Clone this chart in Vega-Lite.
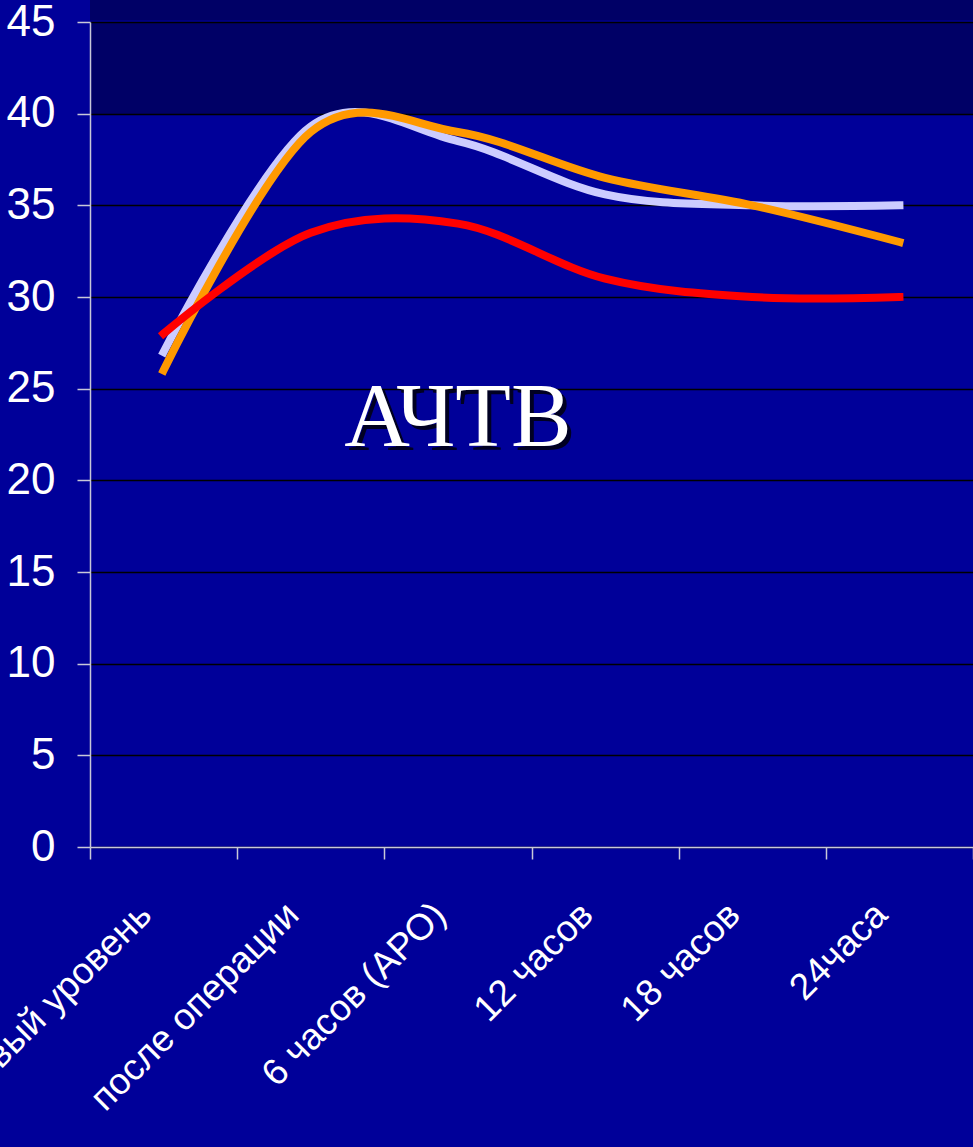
{
  "$schema": "https://vega.github.io/schema/vega-lite/v6.json",
  "width": 883,
  "height": 825,
  "autosize": {"type": "none"},
  "padding": {"left": 90, "top": 22, "right": 0, "bottom": 300},
  "background": "#000099",
  "config": {
    "view": {
      "stroke": null,
      "fill": {
        "gradient": "linear",
        "x1": 0, "y1": 0, "x2": 0, "y2": 1,
        "stops": [
          {"offset": 0, "color": "#000066"},
          {"offset": 0.1115, "color": "#000066"},
          {"offset": 0.1115, "color": "#000099"},
          {"offset": 1, "color": "#000099"}
        ]
      }
    }
  },
  "datasets": {
    "series": [
      {"t": "Базовый уровень", "s": "s1", "v": 27},
      {"t": "после операции", "s": "s1", "v": 39.3},
      {"t": "6 часов (АРО)", "s": "s1", "v": 38.5},
      {"t": "12 часов", "s": "s1", "v": 35.6},
      {"t": "18 часов", "s": "s1", "v": 35},
      {"t": "24часа", "s": "s1", "v": 35},
      {"t": "Базовый уровень", "s": "s2", "v": 26},
      {"t": "после операции", "s": "s2", "v": 39},
      {"t": "6 часов (АРО)", "s": "s2", "v": 39},
      {"t": "12 часов", "s": "s2", "v": 36.5},
      {"t": "18 часов", "s": "s2", "v": 35},
      {"t": "24часа", "s": "s2", "v": 33},
      {"t": "Базовый уровень", "s": "s3", "v": 28},
      {"t": "после операции", "s": "s3", "v": 33.5},
      {"t": "6 часов (АРО)", "s": "s3", "v": 34},
      {"t": "12 часов", "s": "s3", "v": 31},
      {"t": "18 часов", "s": "s3", "v": 30},
      {"t": "24часа", "s": "s3", "v": 30}
    ],
    "topband": [{"lo": 45.08, "hi": 46.5}],
    "caption": [{"text": "АЧТВ", "t": "6 часов (АРО)", "v": 21.9}]
  },
  "layer": [
    {
      "data": {"name": "topband"},
      "mark": {"type": "rect", "color": "#000066"},
      "encoding": {
        "y": {"field": "lo", "type": "quantitative", "title": null},
        "y2": {"field": "hi"}
      }
    },
    {
      "data": {"name": "series"},
      "transform": [{"filter": "datum.s === 's1'"}],
      "mark": {"type": "line", "color": "#CCCCFF", "strokeWidth": 8, "interpolate": "cardinal", "strokeCap": "square"},
      "encoding": {
        "x": {
          "field": "t", "type": "nominal", "title": null,
          "scale": {"type": "band", "paddingInner": 0, "paddingOuter": 0,
            "domain": ["Базовый уровень", "после операции", "6 часов (АРО)", "12 часов", "18 часов", "24часа"]},
          "axis": {
            "tickBand": "extent", "grid": false,
            "labelAngle": -45, "labelAlign": "right", "labelBaseline": "top",
            "labelFont": "Liberation Sans", "labelFontSize": 37, "labelColor": "#FFFFFF",
            "labelPadding": 37, "labelOffset": -31, "labelLimit": 600, "labelOverlap": false,
            "domainColor": "#C8C8D8", "domainWidth": 1.5,
            "tickColor": "#C8C8D8", "tickWidth": 1.5, "tickSize": 12
          }
        },
        "y": {
          "field": "v", "type": "quantitative", "title": null,
          "scale": {"domain": [0, 45], "nice": false, "zero": true},
          "axis": {
            "values": [0, 5, 10, 15, 20, 25, 30, 35, 40, 45],
            "grid": true, "gridColor": "#000000", "gridWidth": 1.6, "gridOpacity": 1,
            "domainColor": "#C8C8D8", "domainWidth": 1.5,
            "tickColor": "#C8C8D8", "tickWidth": 1.5, "tickSize": 13,
            "labelFont": "Liberation Sans", "labelFontSize": 44, "labelColor": "#FFFFFF",
            "labelPadding": 22
          }
        }
      }
    },
    {
      "data": {"name": "series"},
      "transform": [{"filter": "datum.s === 's2'"}],
      "mark": {"type": "line", "color": "#FF9900", "strokeWidth": 8, "interpolate": "cardinal", "strokeCap": "square"},
      "encoding": {
        "x": {"field": "t", "type": "nominal", "title": null},
        "y": {"field": "v", "type": "quantitative", "title": null}
      }
    },
    {
      "data": {"name": "series"},
      "transform": [{"filter": "datum.s === 's3'"}],
      "mark": {"type": "line", "color": "#FF0000", "strokeWidth": 8, "interpolate": "cardinal", "strokeCap": "square"},
      "encoding": {
        "x": {"field": "t", "type": "nominal", "title": null},
        "y": {"field": "v", "type": "quantitative", "title": null}
      }
    },
    {
      "data": {"name": "caption"},
      "mark": {"type": "text", "font": "Liberation Serif", "fontSize": 91, "align": "center", "baseline": "alphabetic", "color": "#000022", "dx": 4, "dy": 4},
      "encoding": {
        "x": {"field": "t", "type": "nominal", "title": null},
        "y": {"field": "v", "type": "quantitative", "title": null},
        "text": {"field": "text"}
      }
    },
    {
      "data": {"name": "caption"},
      "mark": {"type": "text", "font": "Liberation Serif", "fontSize": 91, "align": "center", "baseline": "alphabetic", "color": "#FFFFFF"},
      "encoding": {
        "x": {"field": "t", "type": "nominal", "title": null},
        "y": {"field": "v", "type": "quantitative", "title": null},
        "text": {"field": "text"}
      }
    }
  ]
}
